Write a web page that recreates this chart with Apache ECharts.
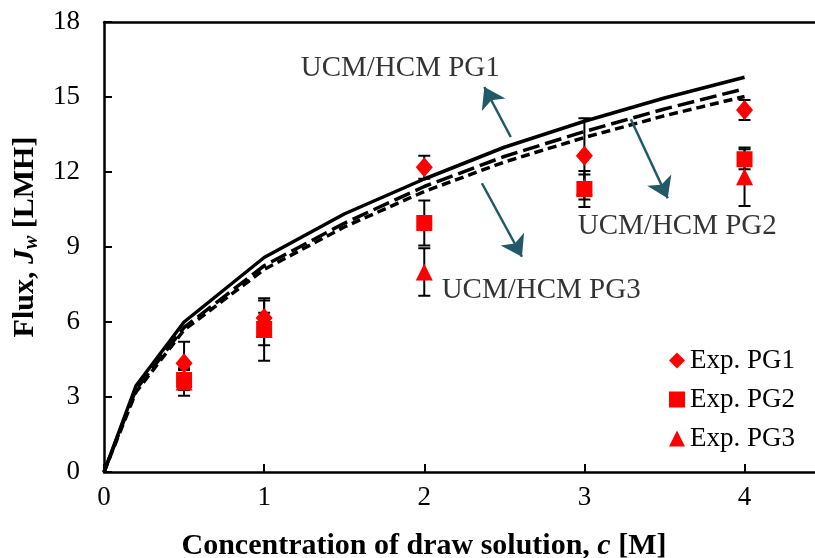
<!DOCTYPE html>
<html style="height: 100%">
<head>
<meta charset="utf-8">
</head>
<body style="height: 100%; margin: 0">
<div id="fluxChart" style="width: 815px; height: 558px"></div>
<script src="https://cdn.jsdelivr.net/npm/echarts@6/dist/echarts.min.js"></script>
<script type="text/javascript">
// model curves (UCM/HCM)
var modelC = [0, 0.2, 0.5, 1, 1.5, 2, 2.5, 3, 3.5, 4];
var modelPG1 = [0, 3.45, 6.0, 8.58, 10.32, 11.72, 12.99, 14.03, 14.96, 15.79];
var modelPG2 = [0, 3.3, 5.78, 8.25, 9.95, 11.42, 12.62, 13.62, 14.52, 15.33];
var modelPG3 = [0, 3.2, 5.68, 8.1, 9.8, 11.22, 12.4, 13.38, 14.25, 15.02];

// experiments
var expC = [0.5, 1, 2, 3, 4];
var expPG1 = [4.35, 6.16, 12.19, 12.65, 14.48];
var expPG1Err = [0.86, 0.7, 0.46, 1.5, 0.4];
var expPG2 = [3.68, 5.72, 9.96, 11.32, 12.51];
var expPG2Err = [0.4, 0.65, 0.9, 0.72, 0.4];
var expPG3 = [3.6, 5.7, 8.0, 11.4, 11.81];
var expPG3Err = [0.55, 1.25, 0.95, 0.5, 1.17];

var xTicks = [0, 1, 2, 3, 4];

// annotation labels and arrows, in data units
var noteNames = ['UCM/HCM PG1', 'UCM/HCM PG2', 'UCM/HCM PG3'];
var notePos = [[1.85, 16.16], [3.58, 9.84], [2.73, 7.28]];
var arrowFrom = [[2.54, 13.4], [3.29, 14.11], [2.36, 11.55]];
var arrowTo = [[2.375, 15.4], [3.52, 10.95], [2.61, 8.61]];

var serif = 'Liberation Serif';
var red = '#FF0000';
var teal = '#215968';

function pairs(xs, ys) {
    var out = [];
    for (var i = 0; i < xs.length; i++) out.push([xs[i], ys[i]]);
    return out;
}
function errRows(xs, ys, es) {
    var out = [];
    for (var i = 0; i < xs.length; i++) out.push([xs[i], ys[i] - es[i], ys[i] + es[i]]);
    return out;
}
function renderErr(params, api) {
    var x = api.value(0);
    var lo = api.coord([x, api.value(1)]);
    var hi = api.coord([x, api.value(2)]);
    var w = 6;
    var st = { stroke: '#000', lineWidth: 2 };
    return {
        type: 'group',
        children: [
            { type: 'line', shape: { x1: lo[0], y1: lo[1], x2: hi[0], y2: hi[1] }, style: st },
            { type: 'line', shape: { x1: lo[0] - w, y1: lo[1], x2: lo[0] + w, y2: lo[1] }, style: st },
            { type: 'line', shape: { x1: hi[0] - w, y1: hi[1], x2: hi[0] + w, y2: hi[1] }, style: st }
        ]
    };
}

var notes = [];
for (var i = 0; i < noteNames.length; i++) {
    notes.push({ name: noteNames[i], value: notePos[i] });
}
var arrows = [];
for (var i = 0; i < arrowFrom.length; i++) {
    arrows.push([{ coord: arrowFrom[i] }, { coord: arrowTo[i] }]);
}

var myChart = echarts.init(document.getElementById('fluxChart'));
var option = {
    animation: false,
    backgroundColor: '#fff',
    textStyle: { fontFamily: serif },
    grid: { left: 104, right: 0, top: 22, bottom: 86, outerBoundsMode: 'none', containLabel: false },
    legend: {
        orient: 'vertical',
        left: 664,
        top: 342,
        itemGap: 12,
        itemWidth: 16,
        itemHeight: 16,
        data: [
            { name: 'Exp. PG1', icon: 'diamond' },
            { name: 'Exp. PG2', icon: 'rect' },
            { name: 'Exp. PG3', icon: 'triangle' }
        ],
        textStyle: { fontFamily: serif, fontSize: 27, color: '#000' }
    },
    xAxis: [{
        type: 'value',
        min: 0,
        max: 4.44,
        interval: 1,
        name: 'Concentration of draw solution, {i|c} [M]',
        nameLocation: 'middle',
        nameGap: 59,
        nameTextStyle: {
            fontFamily: serif, fontSize: 30, fontWeight: 'bold', color: '#000',
            padding: [0, 71, 0, 0],
            rich: { i: { fontFamily: serif, fontSize: 30, fontWeight: 'bold', fontStyle: 'italic', color: '#000' } }
        },
        axisLine: { lineStyle: { color: '#000', width: 2.5 } },
        axisTick: { inside: true, length: 8, lineStyle: { color: '#000', width: 2 }, customValues: xTicks },
        axisLabel: { fontFamily: serif, fontSize: 27, color: '#000', margin: 12, customValues: xTicks },
        splitLine: { show: false }
    }, {
        type: 'value',
        position: 'top',
        min: 0,
        max: 4.44,
        axisLine: { show: true, lineStyle: { color: '#000', width: 2.5 } },
        axisTick: { show: false },
        axisLabel: { show: false },
        splitLine: { show: false }
    }],
    yAxis: {
        type: 'value',
        min: 0,
        max: 18,
        interval: 3,
        name: 'Flux, {i|J}{s|w} [LMH]',
        nameLocation: 'middle',
        nameGap: 62,
        nameTextStyle: {
            fontFamily: serif, fontSize: 30, fontWeight: 'bold', color: '#000',
            padding: [0, 0, 0, 20],
            rich: {
                i: { fontFamily: serif, fontSize: 30, fontWeight: 'bold', fontStyle: 'italic', color: '#000' },
                s: { fontFamily: serif, fontSize: 20, fontWeight: 'bold', fontStyle: 'italic', color: '#000', verticalAlign: 'bottom', padding: [13, 0, 0, 0] }
            }
        },
        axisLine: { show: true, lineStyle: { color: '#000', width: 2.5 } },
        axisTick: { show: true, inside: true, length: 8, lineStyle: { color: '#000', width: 2 } },
        axisLabel: { fontFamily: serif, fontSize: 27, color: '#000', margin: 24 },
        splitLine: { show: false }
    },
    series: [
        {
            name: 'UCM/HCM PG1', type: 'line', data: pairs(modelC, modelPG1),
            showSymbol: false, lineStyle: { color: '#000', width: 3.5 }, z: 3
        },
        {
            name: 'UCM/HCM PG2', type: 'line', data: pairs(modelC, modelPG2),
            showSymbol: false, lineStyle: { color: '#000', width: 3.5, type: [17, 6] }, z: 3
        },
        {
            name: 'UCM/HCM PG3', type: 'line', data: pairs(modelC, modelPG3),
            showSymbol: false, lineStyle: { color: '#000', width: 3.5, type: [9, 5] }, z: 3
        },
        { type: 'custom', renderItem: renderErr, data: errRows(expC, expPG1, expPG1Err), z: 2 },
        { type: 'custom', renderItem: renderErr, data: errRows(expC, expPG2, expPG2Err), z: 2 },
        { type: 'custom', renderItem: renderErr, data: errRows(expC, expPG3, expPG3Err), z: 2 },
        {
            name: 'Exp. PG3', type: 'scatter', symbol: 'triangle', symbolSize: 17,
            itemStyle: { color: red, opacity: 1 }, data: pairs(expC, expPG3), z: 4
        },
        {
            name: 'Exp. PG2', type: 'scatter', symbol: 'rect', symbolSize: 16,
            itemStyle: { color: red, opacity: 1 }, data: pairs(expC, expPG2), z: 4
        },
        {
            name: 'Exp. PG1', type: 'scatter', symbol: 'diamond', symbolSize: [17, 20],
            itemStyle: { color: red, opacity: 1 }, data: pairs(expC, expPG1), z: 4
        },
        {
            type: 'scatter', symbolSize: 1, data: notes, silent: true, z: 5,
            itemStyle: { color: 'rgba(0,0,0,0)' },
            label: {
                show: true, position: 'inside', formatter: '{b}',
                fontFamily: serif, fontSize: 29, color: '#000'
            },
            markLine: {
                silent: true,
                symbol: ['none', 'arrow'],
                symbolSize: 20,
                label: { show: false },
                itemStyle: { color: teal, opacity: 1 },
                lineStyle: { color: teal, width: 2.5, type: 'solid', opacity: 1 },
                data: arrows
            }
        }
    ]
};
myChart.setOption(option);
</script>
</body>
</html>
